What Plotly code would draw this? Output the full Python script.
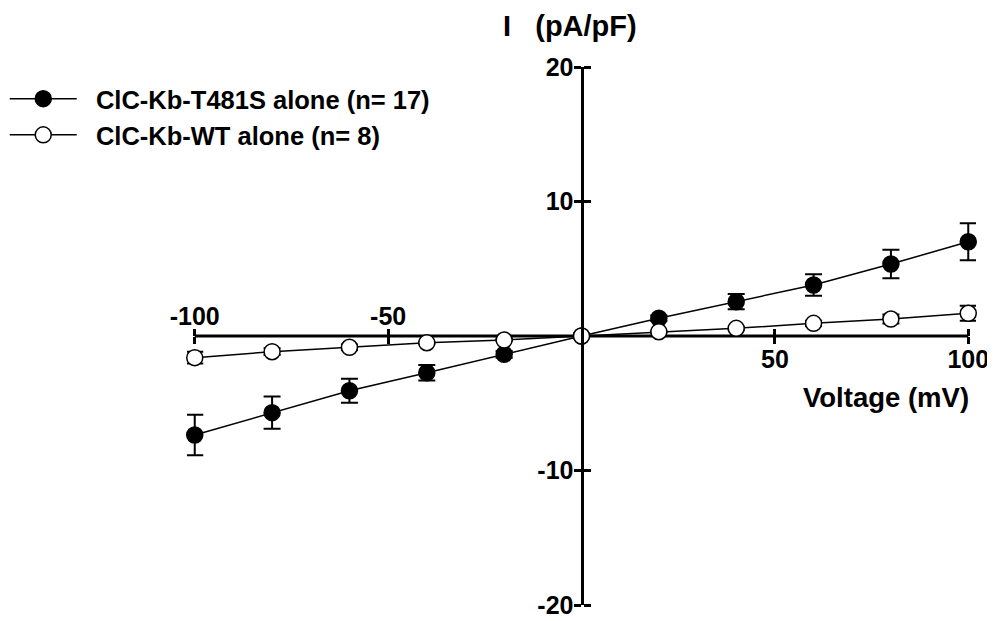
import plotly.graph_objects as go

voltage = [-100, -80, -60, -40, -20, 0, 20, 40, 60, 80, 100]
t481s_mean = [-7.36, -5.70, -4.07, -2.73, -1.36, 0.0, 1.32, 2.55, 3.79, 5.35, 7.01]
t481s_sem = [1.5, 1.2, 0.89, 0.58, 0.25, 0.0, 0.2, 0.57, 0.8, 1.06, 1.38]
wt_mean = [-1.61, -1.17, -0.84, -0.50, -0.30, 0.0, 0.32, 0.57, 0.94, 1.26, 1.69]
wt_sem = [0.43, 0.25, 0.2, 0.1, 0.08, 0.0, 0.08, 0.12, 0.2, 0.33, 0.56]
t481s_name = "ClC-Kb-T481S alone (n= 17)"
wt_name = "ClC-Kb-WT alone (n= 8)"
x_ticks = [-100, -50, 50, 100]
y_ticks = [-20, -10, 10, 20]
x_min, x_max = -100, 100
y_min, y_max = -20, 20

FONT = "Liberation Sans, Arial, sans-serif"
PAD = "\u00a0\u00a0"

fig = go.Figure()
fig.add_trace(go.Scatter(
    x=voltage, y=t481s_mean, name=PAD + t481s_name, mode="lines+markers",
    line=dict(color="black", width=1.5),
    marker=dict(size=16, color="black", line=dict(color="black", width=1.5)),
    error_y=dict(type="data", array=t481s_sem, color="black", thickness=2, width=8.5),
    cliponaxis=False,
))
fig.add_trace(go.Scatter(
    x=voltage, y=wt_mean, name=PAD + wt_name, mode="lines+markers",
    line=dict(color="black", width=1.5),
    marker=dict(size=16, color="white", line=dict(color="black", width=1.5)),
    error_y=dict(type="data", array=wt_sem, color="black", thickness=2, width=8.5),
    cliponaxis=False,
))

tickfont = dict(family=FONT, size=25, color="black", weight="bold")
common_x = dict(range=[x_min - 2, x_max + 2], showgrid=False, zeroline=False, showline=False,
                ticks="outside", ticklen=7,
                tickwidth=2.5, tickcolor="black", tickvals=x_ticks,
                anchor="free", position=0.5, tickfont=tickfont, ticklabelstandoff=-6)
common_y = dict(range=[y_min, y_max], showgrid=False, zeroline=False, showline=True,
                linecolor="black", linewidth=3, ticks="outside", ticklen=7,
                tickwidth=2.5, tickcolor="black", tickvals=y_ticks,
                anchor="free", position=0.5, tickfont=tickfont, ticklabelstandoff=-5)

fig.update_layout(
    width=995, height=621,
    margin=dict(l=179, r=27, t=59, b=24, autoexpand=False),
    paper_bgcolor="white", plot_bgcolor="white",
    font=dict(family=FONT, color="black", weight="bold"),
    xaxis=dict(**common_x, side="bottom", ticktext=["", "", "50", "100"]),
    xaxis2=dict(**common_x, side="top", overlaying="x", ticktext=["-100", "-50", "", ""]),
    yaxis=dict(**common_y, side="left", ticktext=["-20", "-10", "10", "20"]),
    yaxis2=dict(**common_y, side="right", overlaying="y", ticktext=["", "", "", ""]),
    legend=dict(x=-0.231, y=0.984, xanchor="left", yanchor="top",
                font=dict(family=FONT, size=25.5, color="black", weight="bold"),
                bgcolor="rgba(0,0,0,0)", itemwidth=67),
    showlegend=True,
)
# horizontal axis line spanning exactly the data range
fig.add_shape(type="line", xref="x", yref="y", x0=x_min, x1=x_max, y0=0, y1=0,
              line=dict(color="black", width=3), layer="below")
# dummy invisible trace to activate secondary axes
fig.add_trace(go.Scatter(x=[None], y=[None], xaxis="x2", yaxis="y2", showlegend=False, hoverinfo="skip"))

fig.add_annotation(text="I\u00a0\u00a0\u00a0(pA/pF)", xref="paper", yref="paper",
                   x=0.4855, y=1.076, yanchor="middle",
                   showarrow=False, font=dict(family=FONT, size=29, color="black", weight="bold"))
fig.add_annotation(text="Voltage (mV)", xref="paper", yref="paper", x=0.9935, y=0.385,
                   xanchor="right", yanchor="middle", showarrow=False,
                   font=dict(family=FONT, size=27.5, color="black", weight="bold"))

fig.write_html("out.html")
